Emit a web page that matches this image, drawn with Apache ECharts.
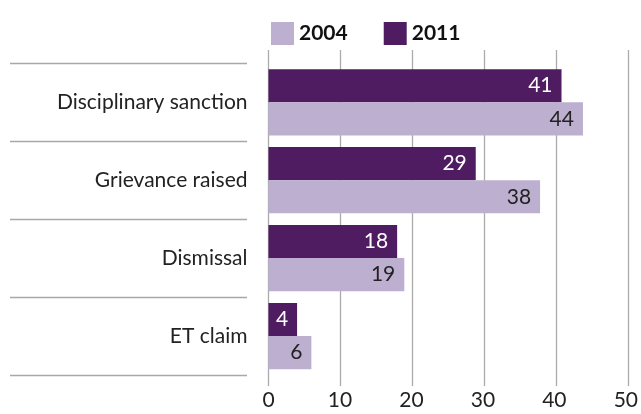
<!DOCTYPE html>
<html><head><meta charset="utf-8">
<script src="https://cdn.jsdelivr.net/npm/echarts@6/dist/echarts.min.js"></script>
<style>html,body{margin:0;padding:0;background:#fff}#c{width:641px;height:414px}</style>
</head><body><div id="c"></div>
<script>
const categories = ['Disciplinary sanction', 'Grievance raised', 'Dismissal', 'ET claim'];
const values2011 = [41, 29, 18, 4];
const values2004 = [44, 38, 19, 6];
const xTicks = [0, 10, 20, 30, 40, 50];

const FONT = 'Lato';
const chart = echarts.init(document.getElementById('c'), null, {renderer: 'canvas'});
chart.setOption({
  animation: false,
  color: ['#4f1b61', '#bcafcf'],
  textStyle: {fontFamily: FONT},
  legend: {
    data: ['2004', '2011'],
    left: 266, top: 17,
    itemWidth: 23, itemHeight: 23, itemGap: 36,
    icon: 'rect',
    textStyle: {fontSize: 21, color: '#111', fontWeight: 'bold', fontFamily: FONT}
  },
  grid: [
    {left: 268.5, right: 12.7, top: 63.3, bottom: 39},
    {left: 268.5, right: 12.7, top: 50, bottom: 28},
    {left: 10, right: 394, top: 63.3, bottom: 39}
  ],
  xAxis: [
    {gridIndex: 0, type: 'value', min: xTicks[0], max: xTicks[xTicks.length - 1], interval: 10,
     axisLine: {show: false}, axisTick: {show: false}, splitLine: {show: false},
     axisLabel: {fontSize: 21, color: '#222', margin: 15, fontFamily: FONT}},
    {gridIndex: 1, type: 'value', min: xTicks[0], max: xTicks[xTicks.length - 1], interval: 10,
     axisLine: {show: false}, axisTick: {show: false}, axisLabel: {show: false},
     splitLine: {show: true, lineStyle: {color: '#ababab', width: 1.3}}},
    {gridIndex: 2, type: 'value', show: false}
  ],
  yAxis: [
    {gridIndex: 0, type: 'category', data: categories, inverse: true,
     axisLine: {show: false}, axisTick: {show: false}, splitLine: {show: false},
     axisLabel: {fontSize: 21, color: '#222', margin: 21, fontFamily: FONT}},
    {gridIndex: 1, type: 'category', data: categories, show: false},
    {gridIndex: 2, type: 'category', data: categories, inverse: true,
     axisLine: {show: false}, axisTick: {show: false}, axisLabel: {show: false},
     splitLine: {show: true, lineStyle: {color: '#a8a8a8', width: 1.3}}}
  ],
  series: [
    {name: '2011', type: 'bar', data: values2011, xAxisIndex: 0, yAxisIndex: 0,
     barGap: '0%', barCategoryGap: '15%',
     label: {show: true, position: 'insideRight', distance: 9, color: '#fff', fontSize: 21, fontFamily: FONT}},
    {name: '2004', type: 'bar', data: values2004, xAxisIndex: 0, yAxisIndex: 0,
     barGap: '0%', barCategoryGap: '15%',
     label: {show: true, position: 'insideRight', distance: 9, color: '#222', fontSize: 21, fontFamily: FONT}}
  ]
});
</script></body></html>
